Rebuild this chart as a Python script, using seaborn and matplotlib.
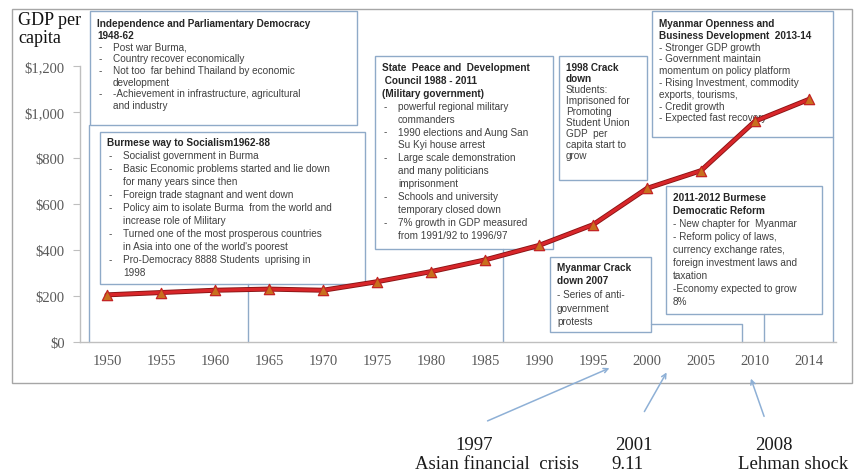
"""
Myanmar GDP per capita 1950-2014 with political period annotations.
"""

import numpy as np
import pandas as pd
import seaborn as sns
import matplotlib.pyplot as plt
import matplotlib.patheffects as pe
from matplotlib.patches import Rectangle, FancyArrowPatch
from matplotlib.lines import Line2D
from matplotlib.ticker import StrMethodFormatter

sns.set_style("white")
plt.rcParams['font.family'] = ['Liberation Sans', 'DejaVu Sans']

# data
years = ['1950', '1955', '1960', '1965', '1970', '1975', '1980',
         '1985', '1990', '1995', '2000', '2005', '2010', '2014']
gdp = [205, 215, 225, 230, 225, 262, 306, 357, 420, 510, 668, 745, 960, 1055]
y_ticks = [0, 200, 400, 600, 800, 1000, 1200]

# annotation boxes: (title lines, body lines)
box_texts = [
    (["Independence and Parliamentary Democracy", "1948-62"],
     ["- Post war Burma,",
      "- Country recover economically",
      "- Not too  far behind Thailand by economic",
      "  development",
      "- -Achievement in infrastructure, agricultural",
      "  and industry"]),
    (["Burmese way to Socialism1962-88"],
     ["- Socialist government in Burma",
      "- Basic Economic problems started and lie down",
      "  for many years since then",
      "- Foreign trade stagnant and went down",
      "- Policy aim to isolate Burma  from the world and",
      "  increase role of Military",
      "- Turned one of the most prosperous countries",
      "  in Asia into one of the world's poorest",
      "- Pro-Democracy 8888 Students  uprising in",
      "  1998"]),
    (["State  Peace and  Development", " Council 1988 - 2011", "(Military government)"],
     ["- powerful regional military",
      "  commanders",
      "- 1990 elections and Aung San",
      "  Su Kyi house arrest",
      "- Large scale demonstration",
      "  and many politicians",
      "  imprisonment",
      "- Schools and university",
      "  temporary closed down",
      "- 7% growth in GDP measured",
      "  from 1991/92 to 1996/97"]),
    (["1998 Crack", "down"],
     ["Students:", "Imprisoned for", "Promoting", "Student Union",
      "GDP  per", "capita start to", "grow"]),
    (["Myanmar Openness and", "Business Development  2013-14"],
     ["- Stronger GDP growth", "- Government maintain",
      "momentum on policy platform", "- Rising Investment, commodity",
      "exports, tourisms,", "- Credit growth", "- Expected fast recovery"]),
    (["2011-2012 Burmese", "Democratic Reform"],
     ["- New chapter for  Myanmar", "- Reform policy of laws,",
      "currency exchange rates,", "foreign investment laws and",
      "taxation", "-Economy expected to grow", "8%"]),
    (["Myanmar Crack", "down 2007"],
     ["- Series of anti-", "government", "protests"]),
]
# layout in pixels: left, top, right, bottom, first line offset, line height, bulleted
box_layout = [
    (90, 12, 357, 126, 12, 11.7, True),
    (100, 133, 365, 285, 10, 13.0, True),
    (375, 57, 553, 250, 11, 12.9, True),
    (559, 57, 647, 181, 11, 11.0, False),
    (652, 12, 833, 138, 12, 11.8, False),
    (666, 187, 822, 315, 11, 13.0, False),
    (550, 258, 651, 333, 10, 13.5, False),
]
connectors = [
    [(89, 126), (89, 343)],
    [(248, 285), (248, 343)],
    [(503, 250), (503, 343)],
    [(651, 325), (742, 325), (742, 343)],
    [(764, 315), (764, 343)],
    [(833, 138), (833, 343)],
]
events = [("1997", "Asian financial  crisis"), ("2001", "9.11"), ("2008", "Lehman shock")]

W, H = 859, 477
fig = plt.figure(figsize=(W / 100, H / 100), dpi=100)
fig.patch.set_facecolor('white')


def fx(x):
    return x / W


def fy(y):
    return 1 - y / H


box_edge = '#8FAAC8'
serif = ['Liberation Serif', 'DejaVu Serif']

# outer frame
fig.add_artist(Rectangle((fx(12), fy(384)), fx(852) - fx(12), fy(10) - fy(384),
                         transform=fig.transFigure, fill=False,
                         edgecolor='#A6A6A6', lw=1.0, zorder=0))

ax = fig.add_axes([fx(80), fy(343), fx(836) - fx(80), fy(67) - fy(343)])
ax.set_facecolor('none')
ax.set_zorder(3)

df = pd.DataFrame({'year': years, 'gdp': gdp})
sns.lineplot(data=df, x='year', y='gdp', ax=ax, sort=False, color='#D8262A', lw=2.3,
             path_effects=[pe.Stroke(linewidth=3.6, foreground='#8A1414'), pe.Normal()])
sns.scatterplot(data=df, x='year', y='gdp', ax=ax, marker='^', s=55,
                color='#C8701E', edgecolor='#C42424', linewidth=0.9, zorder=4)

ax.set_xlim(-0.5, len(years) - 0.5)
ax.set_ylim(0, 1200)
ax.set_yticks(y_ticks)
ax.yaxis.set_major_formatter(StrMethodFormatter('${x:,.0f}'))
ax.set_xticks(range(len(years)))
ax.set_xticklabels(years)
ax.set_xticks(np.arange(-0.5, len(years), 1), minor=True)
ax.tick_params(axis='x', which='major', length=0, pad=9, labelsize=10.5, labelcolor='#595959')
ax.tick_params(axis='x', which='minor', length=4, color='#BFBFBF', direction='out')
ax.tick_params(axis='y', length=5, color='#BFBFBF', pad=6, labelsize=10.5,
               labelcolor='#595959', left=True)
for lab in ax.get_xticklabels() + ax.get_yticklabels():
    lab.set_family(serif)
ax.set_xlabel('')
ax.set_ylabel('')
for side in ['top', 'right']:
    ax.spines[side].set_visible(False)
for side in ['left', 'bottom']:
    ax.spines[side].set_color('#BFBFBF')
    ax.spines[side].set_linewidth(1.0)

fig.text(fx(18), fy(12), "GDP per\ncapita", family=serif, fontsize=13,
         va='top', ha='left', linespacing=1.05, color='#111111')

# boxes and connectors (under the data line)
for (titles, body), (l, t, r, b, off, lh, bullet) in zip(box_texts, box_layout):
    fig.add_artist(Rectangle((fx(l), fy(b)), fx(r) - fx(l), fy(t) - fy(b),
                             transform=fig.transFigure, facecolor='white',
                             edgecolor=box_edge, lw=1.0, zorder=1))
    y = t + off
    for line in titles:
        fig.text(fx(l + 7), fy(y), line, fontsize=7.2, fontweight='bold',
                 color='#262626', va='center', ha='left', zorder=2)
        y += lh
    for line in body:
        if bullet:
            if line.startswith('- '):
                fig.text(fx(l + 9), fy(y), '-', fontsize=7.2, color='#404040',
                         va='center', ha='left', zorder=2)
            fig.text(fx(l + 23), fy(y), line[2:], fontsize=7.2, color='#404040',
                     va='center', ha='left', zorder=2)
        else:
            fig.text(fx(l + 7), fy(y), line, fontsize=7.2, color='#404040',
                     va='center', ha='left', zorder=2)
        y += lh

for pts in connectors:
    xs = [fx(p[0]) for p in pts]
    ys = [fy(p[1]) for p in pts]
    fig.add_artist(Line2D(xs, ys, transform=fig.transFigure, color=box_edge,
                          lw=1.0, zorder=1))

# event arrows below the axis
arrow_tails = [(485, 423), (643, 415), (765, 420)]
arrow_heads = [(612, 368), (668, 371), (750, 377)]
for tail, head in zip(arrow_tails, arrow_heads):
    fig.add_artist(FancyArrowPatch((fx(tail[0]), fy(tail[1])), (fx(head[0]), fy(head[1])),
                                   transform=fig.transFigure, arrowstyle='->',
                                   mutation_scale=8, color='#8EB0D6', lw=1.1, zorder=2))

event_pos = [(474, 497), (634, 627), (774, 738)]
for (yr, name), (xa, xb) in zip(events, event_pos):
    fig.text(fx(xa), fy(445), yr, family=serif, fontsize=13.5, ha='center',
             va='center', color='#1A1A1A')
    ha = 'left' if name == 'Lehman shock' else 'center'
    fig.text(fx(xb), fy(465), name, family=serif, fontsize=13.5, ha=ha,
             va='center', color='#1A1A1A')

fig.savefig('out.png', dpi=100)
plt.close(fig)
